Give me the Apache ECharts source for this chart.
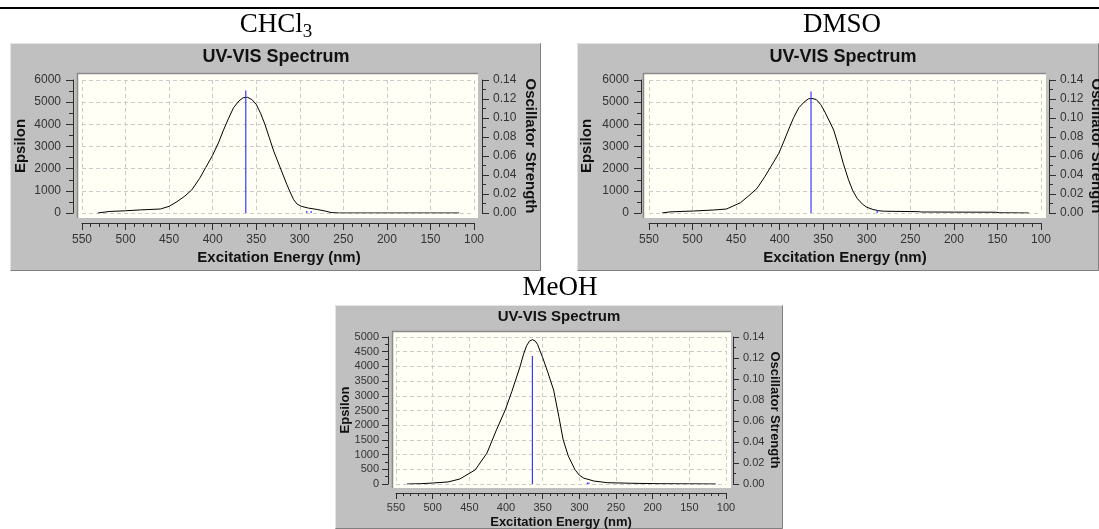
<!DOCTYPE html>
<html><head><meta charset="utf-8">
<script src="https://cdn.jsdelivr.net/npm/echarts@6/dist/echarts.min.js"></script>
<style>html,body{margin:0;padding:0;background:#fff}#c{width:1099px;height:529px}</style>
</head><body><div id="c"></div>
<script>
// ---------------- data ----------------
const chcl3Nm  = [532, 518, 500, 483, 460, 450, 441, 432, 424, 415, 408, 400, 393, 388, 382, 376, 370, 365, 360, 355, 350, 345, 340, 335, 330, 325, 320, 315, 310, 307, 303, 298, 290, 280, 270, 264, 255, 200, 150, 117];
const chcl3Eps = [0, 70, 100, 140, 180, 300, 510, 760, 1040, 1560, 2050, 2610, 3200, 3700, 4250, 4750, 5050, 5200, 5220, 5120, 4900, 4500, 4000, 3400, 2800, 2300, 1800, 1300, 850, 600, 400, 300, 220, 160, 80, 20, 0, 0, 0, 0];
const chcl3StickNm = [362, 292, 287];
const chcl3StickF  = [0.129, 0.002, 0.002];

const dmsoNm  = [535, 526, 499, 476, 461, 445, 436, 426, 417, 410, 401, 395, 390, 384, 378, 372, 367, 363, 358, 353, 348, 343, 338, 333, 327, 321, 316, 311, 305, 300, 293, 286, 280, 241, 237, 200, 152, 148, 114];
const dmsoEps = [0, 50, 90, 135, 180, 465, 760, 1110, 1640, 2100, 2690, 3250, 3740, 4300, 4750, 5000, 5150, 5170, 5120, 4900, 4550, 4150, 3740, 3100, 2240, 1500, 1000, 660, 400, 260, 160, 100, 80, 60, 45, 40, 35, 10, 0];
const dmsoStickNm = [364, 288];
const dmsoStickF  = [0.128, 0.003];

const meohNm  = [535, 517, 499, 479, 463, 442, 426, 413, 401, 392, 381, 376, 372, 368, 364, 360, 357, 350, 343, 335, 328, 322, 315, 306, 300, 294, 280, 262, 230, 190, 150, 114];
const meohEps = [0, 10, 35, 70, 170, 480, 1050, 1840, 2520, 3150, 3980, 4420, 4700, 4860, 4910, 4860, 4750, 4300, 3800, 3190, 2300, 1500, 950, 490, 300, 200, 100, 45, 25, 10, 5, 0];
const meohStickNm = [364, 289, 287];
const meohStickF  = [0.122, 0.0015, 0.0015];

const nmMin = 100, nmMax = 550, nmInterval = 50;
const oscMax = 0.14, oscInterval = 0.02;

// ---------------- layout ----------------
const SANS = 'Liberation Sans, Arial, sans-serif';
const SERIF = 'Liberation Serif, Times New Roman, serif';
const AX = '#2e2e2e';

const panels = [
  { title: '{m|CHCl}{s|3}', nm: chcl3Nm, eps: chcl3Eps, sNm: chcl3StickNm, sF: chcl3StickF,
    epsMax: 6000, epsInt: 1000,
    box: [10, 43, 541, 271], plot: [77, 73, 478, 218], grid: [82, 80, 474, 213],
    off: { l: 9, b: 10, r: 8 }, lm: 12, rm: 11, bm: 11,
    titleXY: [276, 25], specXY: [276, 57], xnXY: [279, 258], ynXY: [21, 146], y2nXY: [530, 146],
    fTick: 12, fName: 15, fSpec: 18, tickLen: 7, minorLen: 4 },
  { title: '{m|DMSO}', nm: dmsoNm, eps: dmsoEps, sNm: dmsoStickNm, sF: dmsoStickF,
    epsMax: 6000, epsInt: 1000,
    box: [577, 43, 1099, 271], plot: [643, 73, 1046, 218], grid: [649, 80, 1041, 213],
    off: { l: 8, b: 10, r: 8 }, lm: 12, rm: 11, bm: 11,
    titleXY: [842, 25], specXY: [843, 57], xnXY: [845, 258], ynXY: [587, 146], y2nXY: [1096, 146],
    fTick: 12, fName: 15, fSpec: 18, tickLen: 7, minorLen: 4 },
  { title: '{m|MeOH}', nm: meohNm, eps: meohEps, sNm: meohStickNm, sF: meohStickF,
    epsMax: 5000, epsInt: 500,
    box: [335, 305, 783, 529], plot: [392, 331, 731, 488], grid: [396, 337, 726, 484],
    off: { l: 8, b: 9, r: 7 }, lm: 9, rm: 10, bm: 9,
    titleXY: [560, 288], specXY: [559, 317], xnXY: [561, 522], ynXY: [345, 410], y2nXY: [775, 410],
    fTick: 11, fName: 13, fSpec: 15, tickLen: 6, minorLen: 3 }
];

const titleRich = {
  m: { fontSize: 27, fontFamily: SERIF, fill: '#000', verticalAlign: 'middle', lineHeight: 34 },
  s: { fontSize: 19, fontFamily: SERIF, fill: '#000', verticalAlign: 'bottom', lineHeight: 34 }
};

const graphics = [
  { type: 'rect', shape: { x: 0, y: 7, width: 1099, height: 2 }, style: { fill: '#000' }, z: -20 }
];
panels.forEach(p => {
  const [bx0, by0, bx1, by1] = p.box, [px0, py0, px1, py1] = p.plot;
  graphics.push(
    { type: 'rect', z: -20, shape: { x: bx0, y: by0, width: bx1 - bx0, height: by1 - by0 }, style: { fill: '#c0c0c0' } },
    { type: 'polyline', z: -19, shape: { points: [[bx0 + 0.5, by1 - 0.5], [bx0 + 0.5, by0 + 0.5], [bx1 - 0.5, by0 + 0.5]] }, style: { stroke: '#e4e4e4', fill: null, lineWidth: 1 } },
    { type: 'polyline', z: -19, shape: { points: [[bx0 + 0.5, by1 - 0.5], [bx1 - 0.5, by1 - 0.5], [bx1 - 0.5, by0 + 0.5]] }, style: { stroke: '#808080', fill: null, lineWidth: 1 } },
    { type: 'rect', z: -18, shape: { x: px0, y: py0, width: px1 - px0, height: py1 - py0 }, style: { fill: '#fffff6' } },
    { type: 'polyline', z: -17, shape: { points: [[px0 + 0.5, py1], [px0 + 0.5, py0 + 0.5], [px1, py0 + 0.5]] }, style: { stroke: '#8a8a8a', fill: null, lineWidth: 1.5 } },
    { type: 'text', z: 10, x: p.titleXY[0], y: p.titleXY[1],
      style: { text: p.title, align: 'center', verticalAlign: 'middle', fill: '#000', rich: titleRich } },
    { type: 'text', z: 10, x: p.specXY[0], y: p.specXY[1],
      style: { text: 'UV-VIS Spectrum', align: 'center', verticalAlign: 'middle', fill: '#111', font: 'bold ' + p.fSpec + 'px ' + SANS } },
    { type: 'text', z: 10, x: p.xnXY[0], y: p.xnXY[1],
      style: { text: 'Excitation Energy (nm)', align: 'center', verticalAlign: 'middle', fill: '#111', font: 'bold ' + p.fName + 'px ' + SANS } },
    { type: 'text', z: 10, x: p.ynXY[0], y: p.ynXY[1], rotation: Math.PI / 2,
      style: { text: 'Epsilon', align: 'center', verticalAlign: 'middle', fill: '#111', font: 'bold ' + p.fName + 'px ' + SANS } },
    { type: 'text', z: 10, x: p.y2nXY[0], y: p.y2nXY[1], rotation: -Math.PI / 2,
      style: { text: 'Oscillator Strength', align: 'center', verticalAlign: 'middle', fill: '#111', font: 'bold ' + p.fName + 'px ' + SANS } }
  );
});

const dash = { color: '#cbcbcb', type: [4, 3], width: 1 };
const grids = [], xAxes = [], yAxes = [], series = [];
panels.forEach((p, i) => {
  const [gx0, gy0, gx1, gy1] = p.grid;
  grids.push({ left: gx0, top: gy0, width: gx1 - gx0, height: gy1 - gy0, containLabel: false, show: false });
  xAxes.push({
    gridIndex: i, type: 'value', min: nmMin, max: nmMax, interval: nmInterval, inverse: true, offset: p.off.b,
    axisLine: { show: true, onZero: false, lineStyle: { color: AX, width: 1 } },
    axisTick: { show: true, length: p.tickLen, lineStyle: { color: AX } },
    minorTick: { show: true, splitNumber: 5, length: p.minorLen, lineStyle: { color: AX } },
    axisLabel: { margin: p.bm, color: '#333', fontFamily: SANS, fontSize: p.fTick, showMinLabel: true, showMaxLabel: true, formatter: v => String(v) },
    splitLine: { show: true, lineStyle: dash }, z: 3
  });
  yAxes.push({
    gridIndex: i, type: 'value', position: 'left', min: 0, max: p.epsMax, interval: p.epsInt, offset: p.off.l,
    axisLine: { show: true, onZero: false, lineStyle: { color: AX } },
    axisTick: { show: true, length: p.tickLen, lineStyle: { color: AX } },
    minorTick: { show: true, splitNumber: 2, length: p.minorLen, lineStyle: { color: AX } },
    axisLabel: { margin: p.lm, color: '#333', fontFamily: SANS, fontSize: p.fTick, formatter: v => String(v) },
    splitLine: { show: true, lineStyle: dash }, z: 3
  });
  yAxes.push({
    gridIndex: i, type: 'value', position: 'right', min: 0, max: oscMax, interval: oscInterval, offset: p.off.r,
    axisLine: { show: true, onZero: false, lineStyle: { color: AX } },
    axisTick: { show: true, length: p.tickLen, lineStyle: { color: AX } },
    minorTick: { show: true, splitNumber: 2, length: p.minorLen, lineStyle: { color: AX } },
    axisLabel: { margin: p.rm, color: '#333', fontFamily: SANS, fontSize: p.fTick, formatter: v => v.toFixed(2) },
    splitLine: { show: false }, z: 3
  });
  series.push({
    type: 'line', xAxisIndex: i, yAxisIndex: 2 * i, showSymbol: false, symbol: 'none', z: 5,
    lineStyle: { color: '#000', width: 1 }, data: p.nm.map((x, k) => [x, p.eps[k]])
  });
  p.sNm.forEach((x, k) => series.push({
    type: 'line', xAxisIndex: i, yAxisIndex: 2 * i + 1, showSymbol: false, symbol: 'none', z: 6,
    lineStyle: { color: '#3a3aff', width: 1.2 }, data: [[x, 0], [x, p.sF[k]]]
  }));
});

const chart = echarts.init(document.getElementById('c'), null, { renderer: 'canvas' });
chart.setOption({
  animation: false, backgroundColor: '#ffffff',
  graphic: { elements: graphics },
  grid: grids, xAxis: xAxes, yAxis: yAxes, series: series
});
</script></body></html>
